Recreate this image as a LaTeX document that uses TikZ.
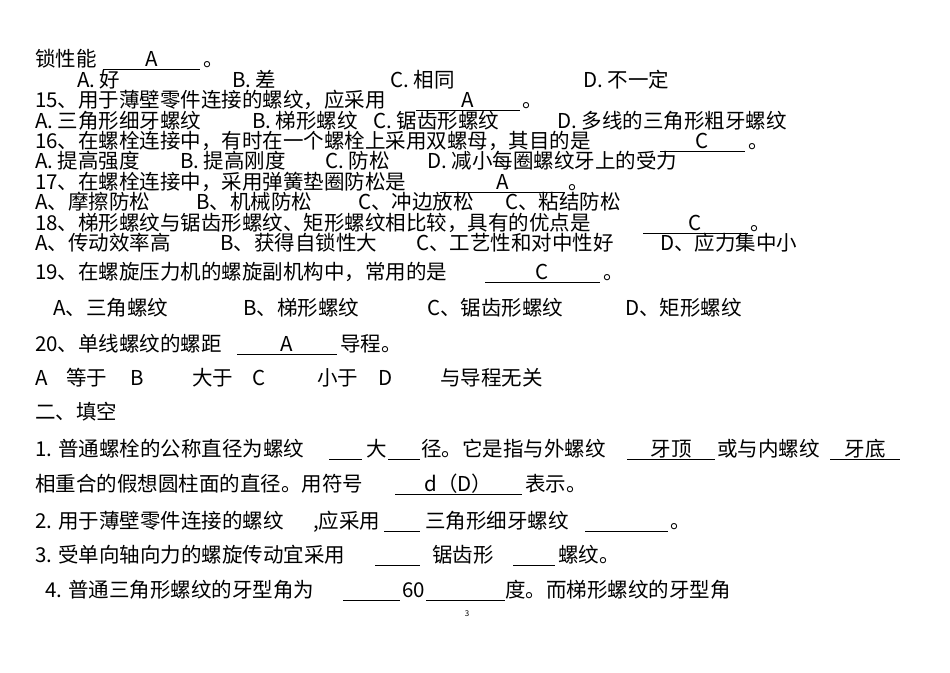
\documentclass[tikz,border=0pt]{standalone}
\usepackage{fontspec}
\setmainfont{Noto Sans CJK SC}
\newcommand\bl[4]{\draw[line width=0.9pt] (#1,#3+3) -- (#2,#3+3); \node[t,anchor=base] at ({(#1+#2)/2},#3) {#4};}
\begin{document}
\begin{tikzpicture}[x=1pt,y=-1pt,t/.style={anchor=base west,inner sep=0pt,font=\fontsize{20.5}{20.5}\selectfont}]
\useasboundingbox[fill=white] (0,0) rectangle (950,672);
\node[t] (a1) at (35,66) {锁性能}; \bl{103}{200}{66}{A} \node[t] at (203,66) {。};
\node[t] (a2) at (77,87) {A. 好};
\node[t] (a3) at (232,87) {B. 差};
\node[t] (a4) at (390,87) {C. 相同};
\node[t] (a5) at (583,87) {D. 不一定};
\node[t] (b1) at (35,107) {15、用于薄壁零件连接的螺纹，应采用}; \bl{416}{520}{107}{A} \node[t] at (522,107) {。};
\node[t] (b2) at (35,128) {A. 三角形细牙螺纹};
\node[t] (b3) at (252,128) {B. 梯形螺纹};
\node[t] (b4) at (373,128) {C. 锯齿形螺纹};
\node[t] (b5) at (557,128) {D. 多线的三角形粗牙螺纹};
\node[t] (c1) at (35,148) {16、在螺栓连接中，有时在一个螺栓上采用双螺母，其目的是}; \bl{660}{745}{148}{C} \node[t] at (748,148) {。};
\node[t] (c2) at (35,168) {A. 提高强度};
\node[t] (c3) at (180,168) {B. 提高刚度};
\node[t] (c4) at (325,168) {C. 防松};
\node[t] (c5) at (427,168) {D. 减小每圈螺纹牙上的受力};
\node[t] (d1) at (35,189) {17、在螺栓连接中，采用弹簧垫圈防松是}; \bl{440}{565}{189}{A} \node[t] at (568,189) {。};
\node[t] (d2) at (35,209) {A、摩擦防松};
\node[t] (d3) at (196,209) {B、机械防松};
\node[t] (d4) at (358,209) {C、冲边放松};
\node[t] (d5) at (505,209) {C、粘结防松};
\node[t] (e1) at (35,230) {18、梯形螺纹与锯齿形螺纹、矩形螺纹相比较，具有的优点是}; \bl{643}{748}{230}{C} \node[t] at (750,230) {。};
\node[t] (e2) at (35,250) {A、传动效率高};
\node[t] (e3) at (220,250) {B、获得自锁性大};
\node[t] (e4) at (416,250) {C、工艺性和对中性好};
\node[t] (e5) at (660,250) {D、应力集中小};
\node[t] (f1) at (35,279) {19、在螺旋压力机的螺旋副机构中，常用的是}; \bl{485}{600}{279}{C} \node[t] at (603,279) {。};
\node[t] (f2) at (53,315) {A、三角螺纹};
\node[t] (f3) at (243,315) {B、梯形螺纹};
\node[t] (f4) at (427,315) {C、锯齿形螺纹};
\node[t] (f5) at (625,315) {D、矩形螺纹};
\node[t] (g1) at (35,351) {20、单线螺纹的螺距}; \bl{237}{337}{351}{A} \node[t] at (340,351) {导程。};
\node[t] (h1) at (35,385) {A};
\node[t] (h1b) at (66,385) {等于};
\node[t] (h2) at (130,385) {B};
\node[t] (h3) at (192,385) {大于};
\node[t] (h4) at (252,385) {C};
\node[t] (h5) at (317,385) {小于};
\node[t] (h6) at (378,385) {D};
\node[t] (h7) at (440,385) {与导程无关};
\node[t] (i1) at (35,419) {二、填空};
\node[t] (j1) at (35,456) {1. 普通螺栓的公称直径为螺纹}; \bl{329}{362}{456}{} \node[t] at (366,456) {大}; \bl{388}{420}{456}{} \node[t] at (421,456) {径。它是指与外螺纹}; \bl{627}{715}{456}{牙顶} \node[t] at (717,456) {或与内螺纹}; \bl{830}{900}{456}{牙底}
\node[t] (j2) at (35,491) {相重合的假想圆柱面的直径。用符号}; \bl{395}{522}{491}{d（D）} \node[t] at (525,491) {表示。};
\node[t] (k1) at (35,528) {2. 用于薄壁零件连接的螺纹}; \node[t] at (313,528) {,应采用}; \bl{384}{420}{528}{} \node[t] at (425,528) {三角形细牙螺纹}; \bl{585}{668}{528}{} \node[t] at (670,528) {。};
\node[t] (l1) at (35,562) {3. 受单向轴向力的螺旋传动宜采用}; \bl{375}{420}{562}{} \node[t] at (432,562) {锯齿形}; \bl{513}{555}{562}{} \node[t] at (558,562) {螺纹。};
\node[t] (m1) at (45,597) {4. 普通三角形螺纹的牙型角为}; \bl{343}{400}{597}{} \node[t] at (402,597) {60}; \bl{426}{505}{597}{} \node[t] at (505,597) {度。而梯形螺纹的牙型角};
\node[anchor=base,inner sep=0pt,font=\fontsize{8}{8}\selectfont] (pg) at (467,616) {3};
\end{tikzpicture}
\end{document}
